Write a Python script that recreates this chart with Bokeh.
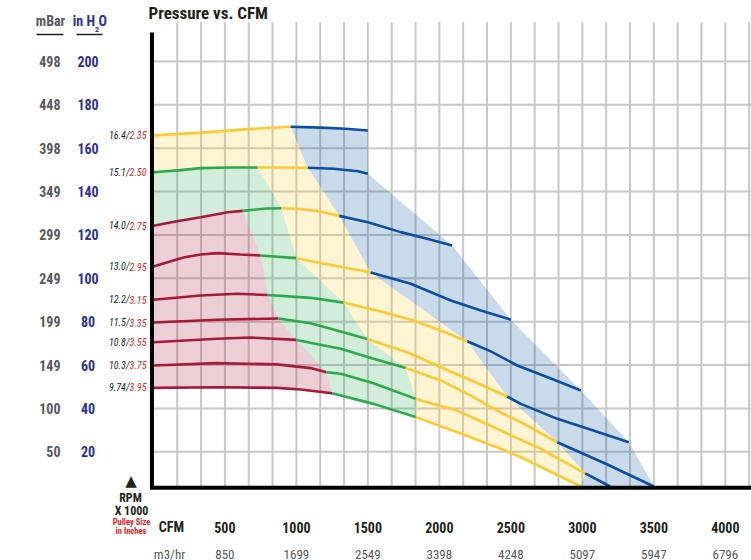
from bokeh.plotting import figure
from bokeh.models import Range1d, Label, Arrow
from bokeh.embed import file_html
from bokeh.resources import INLINE

FONT = "Roboto Condensed, DejaVu Sans Condensed, Roboto"
W, H = 751, 560

# ---------------- data ----------------
CFM_TICKS = [500, 1000, 1500, 2000, 2500, 3000, 3500, 4000]
M3HR_LABELS = ["850", "1699", "2549", "3398", "4248", "5097", "5947", "6796"]
H2O_TICKS = [20, 40, 60, 80, 100, 120, 140, 160, 180, 200]
MBAR_LABELS = ["50", "100", "149", "199", "249", "299", "349", "398", "448", "498"]
GRID_STEP_CFM = 500 / 3

RPM = ["16.4", "15.1", "14.0", "13.0", "12.2", "11.5", "10.8", "10.3", "9.74"]
PULLEY = ["2.35", "2.50", "2.75", "2.95", "3.15", "3.35", "3.55", "3.75", " 3.95"]

cfm_164 = [0, 155, 330, 505, 680, 820, 960, 1170, 1345, 1500]
h2o_164 = [165.9, 166.5, 167.2, 168.0, 168.9, 169.4, 169.9, 169.5, 169.0, 168.2]
zones_164 = [0, 0, 6]

cfm_151 = [0, 190, 330, 540, 730, 890, 1080, 1260, 1430, 1500]
h2o_151 = [148.9, 149.9, 150.8, 151.1, 151.1, 151.1, 151.0, 150.5, 149.4, 148.2]
zones_151 = [0, 4, 6]

cfm_140 = [0, 155, 330, 520, 625, 785, 895, 1030, 1150, 1300, 1500, 1730, 1915, 2090]
h2o_140 = [124.2, 126.2, 128.2, 130.5, 131.1, 132.2, 132.3, 132.0, 131.0, 128.8, 125.9, 121.3, 118.2, 115.1]
zones_140 = [4, 6, 9]

cfm_130 = [0, 210, 330, 450, 610, 750, 1000, 1260, 1520, 1800, 2080, 2290, 2500]
h2o_130 = [105.4, 109.6, 111.0, 111.6, 111.0, 110.5, 109.3, 105.9, 102.7, 97.5, 89.8, 85.2, 80.9]
zones_130 = [5, 6, 8]

cfm_122 = [0, 330, 585, 800, 1100, 1330, 1590, 1820, 2010, 2195, 2360, 2545, 2780, 2990]
h2o_122 = [90.1, 92.1, 92.9, 92.3, 91.0, 88.8, 84.7, 80.5, 75.9, 71.0, 66.3, 59.8, 53.8, 48.3]
zones_122 = [3, 5, 9]

cfm_115 = [0, 445, 875, 1100, 1310, 1495, 1775, 2010, 2240, 2475, 2570, 2825, 3055, 3325]
h2o_115 = [79.6, 80.9, 81.5, 79.3, 75.5, 72.0, 65.9, 59.0, 52.4, 45.5, 42.1, 35.2, 30.3, 24.4]
zones_115 = [2, 5, 9]

cfm_108 = [0, 445, 680, 1000, 1310, 1540, 1765, 2010, 2240, 2430, 2570, 2825, 3160, 3500]
h2o_108 = [70.5, 72.1, 72.7, 71.6, 67.5, 62.9, 58.7, 52.9, 45.2, 38.1, 33.7, 24.4, 14.6, 4.0]
zones_108 = [3, 6, 11]

cfm_103 = [0, 445, 865, 1100, 1210, 1310, 1540, 1835, 2125, 2430, 2705, 3020, 3195]
h2o_103 = [59.8, 60.9, 60.3, 58.6, 56.7, 56.0, 51.6, 44.4, 39.0, 29.8, 21.5, 10.1, 4.0]
zones_103 = [4, 7, 11]

cfm_974 = [0, 445, 865, 1030, 1250, 1310, 1540, 1835, 2125, 2430, 2570, 2990]
h2o_974 = [49.5, 49.8, 49.5, 48.7, 47.0, 46.0, 42.1, 36.0, 29.0, 21.4, 17.5, 4.0]
zones_974 = [4, 7, 11]

CURVES = [
    (cfm_164, h2o_164, zones_164), (cfm_151, h2o_151, zones_151),
    (cfm_140, h2o_140, zones_140), (cfm_130, h2o_130, zones_130),
    (cfm_122, h2o_122, zones_122), (cfm_115, h2o_115, zones_115),
    (cfm_108, h2o_108, zones_108), (cfm_103, h2o_103, zones_103),
    (cfm_974, h2o_974, zones_974),
]

RED, GREEN, YELLOW, BLUE = "#a6193c", "#2aaa4b", "#ffc933", "#0b4ea2"
ZONE_COLORS = [RED, GREEN, YELLOW, BLUE]
FILL_ALPHA = 0.21

# plot-area layout (data units)
X_LEFT, X_RIGHT = -1069.4, 4183.2      # visible CFM range over the whole canvas
Y_BOTTOM, Y_TOP = -30.12, 228.11       # visible in H2O range over the whole canvas
AXIS_X = -10                            # vertical axis position (CFM)
AXIS_Y = 3.4                            # horizontal axis position (in H2O)
GRID_TOP = 218.1
AXIS_TOP = 213.4

# ---------------- figure ----------------
p = figure(width=W, height=H, x_range=Range1d(X_LEFT, X_RIGHT), y_range=Range1d(Y_BOTTOM, Y_TOP),
           output_backend="svg", toolbar_location=None, x_axis_type=None, y_axis_type=None,
           min_border=0, min_border_left=0, min_border_right=0, min_border_top=0, min_border_bottom=0)
p.outline_line_color = None
p.background_fill_color = "white"
p.border_fill_color = "white"
p.grid.visible = False

GRID_COLOR = "#c8c8c8"
vgrid = [GRID_STEP_CFM * k for k in range(1, int(X_RIGHT // GRID_STEP_CFM) + 1)]
p.segment(x0=vgrid, y0=[AXIS_Y] * len(vgrid), x1=vgrid, y1=[GRID_TOP] * len(vgrid),
          line_color=GRID_COLOR, line_width=2)
p.segment(x0=[AXIS_X] * len(H2O_TICKS), y0=H2O_TICKS, x1=[X_RIGHT] * len(H2O_TICKS), y1=H2O_TICKS,
          line_color=GRID_COLOR, line_width=2)


# ---------------- filled zones ----------------
def zone_bounds(z, n, k):
    rg, gy, yb = z
    edges = [0, rg, gy, yb, n - 1]
    return edges[k], edges[k + 1]


for k in range(4):
    bounds = [zone_bounds(z, len(c), k) for c, h, z in CURVES]
    first = next(i for i, (s, e) in enumerate(bounds) if e > s)
    last = len(CURVES) - 1
    xs, ys = [], []
    c, h, _ = CURVES[first]
    s, e = bounds[first]
    xs += c[s:e + 1]
    ys += h[s:e + 1]
    for i in range(first + 1, last):
        c, h, _ = CURVES[i]
        xs.append(c[bounds[i][1]])
        ys.append(h[bounds[i][1]])
    c, h, _ = CURVES[last]
    s, e = bounds[last]
    xs += c[s:e + 1][::-1]
    ys += h[s:e + 1][::-1]
    for i in range(last - 1, first, -1):
        c, h, _ = CURVES[i]
        s = bounds[i][0]
        if s > 0 and bounds[i - 1][0] == 0:
            xs += c[:s + 1][::-1]
            ys += h[:s + 1][::-1]
        else:
            xs.append(c[s])
            ys.append(h[s])
    p.patch(xs, ys, fill_color=ZONE_COLORS[k], fill_alpha=FILL_ALPHA, line_color=None)

# ---------------- curves ----------------
for c, h, z in CURVES:
    for k in range(4):
        s, e = zone_bounds(z, len(c), k)
        if e > s:
            p.line(c[s:e + 1], h[s:e + 1], line_color=ZONE_COLORS[k], line_width=2.6)

# axis lines
p.segment(x0=[AXIS_X], y0=[AXIS_Y], x1=[AXIS_X], y1=[AXIS_TOP], line_color="black", line_width=4)
p.segment(x0=[AXIS_X - 14], y0=[AXIS_Y], x1=[X_RIGHT], y1=[AXIS_Y], line_color="black", line_width=4)


# ---------------- texts ----------------
def lab(text, x, y, xu="screen", yu="screen", size="13px", color="#231f20",
        style="bold", align="center", baseline="middle", font=FONT):
    # screen units: x from the left edge, y given from the top edge of the picture
    yy = (H - y) if yu == "screen" else y
    p.add_layout(Label(x=x, y=yy, x_units=xu, y_units=yu, text=text, text_font=font,
                       text_font_size=size, text_color=color, text_font_style=style,
                       text_align=align, text_baseline=baseline))


# y tick columns
for t, m in zip(H2O_TICKS, MBAR_LABELS):
    lab(m, 60, t, yu="data", size="14px", color="#58595b", align="right")
    lab(str(t), 87.5, t, yu="data", size="14px", color="#2e3192")

# x tick rows
for t, m in zip(CFM_TICKS, M3HR_LABELS):
    lab(str(t), t, 527, xu="data", size="14px")
    lab(m, t, 553.5, xu="data", size="13px", color="#58595b", style="normal")
lab("CFM", 171, 526.5, size="14px")
lab("m3/hr", 169, 553.5, size="13px", color="#58595b", style="normal")

# curve labels (RPM x1000 / pulley size)
for (c, h, z), r, pl in zip(CURVES, RPM, PULLEY):
    lab(r + "/", 129, h[0], yu="data", size="10px", style="italic", align="right")
    lab(pl, 129, h[0], yu="data", size="10px", style="italic", align="left", color="#e31e24")

# title
lab("Pressure vs. CFM", 148, 12.5, size="17px", align="left")

# column headers
lab("mBar", 50, 20.5, size="14px", color="#58595b")
lab("in H", 94.5, 20.5, size="14px", color="#2e3192", align="right")
lab("2", 94.5, 29, size="8px", color="#2e3192", align="left")
lab("O", 98, 20.5, size="14px", color="#2e3192", align="left")
for x0, x1 in ((36, 63), (76, 102)):
    p.add_layout(Arrow(x_start=x0, y_start=H - 34, x_end=x1, y_end=H - 34,
                       start_units="screen", end_units="screen", end=None,
                       line_color="#231f20", line_width=1.5))

# bottom-left legend
lab("\u25B2", 130.5, 480, size="15px", font="DejaVu Sans", style="normal")
lab("RPM", 130, 497, size="12px")
lab("X 1000", 131, 510, size="12px")
lab("Pulley Size", 131, 521.5, size="8.5px", color="#e31e24")
lab("in Inches", 130.5, 530.5, size="8.5px", color="#e31e24")

open("out.html", "w").write(file_html(p, INLINE))
